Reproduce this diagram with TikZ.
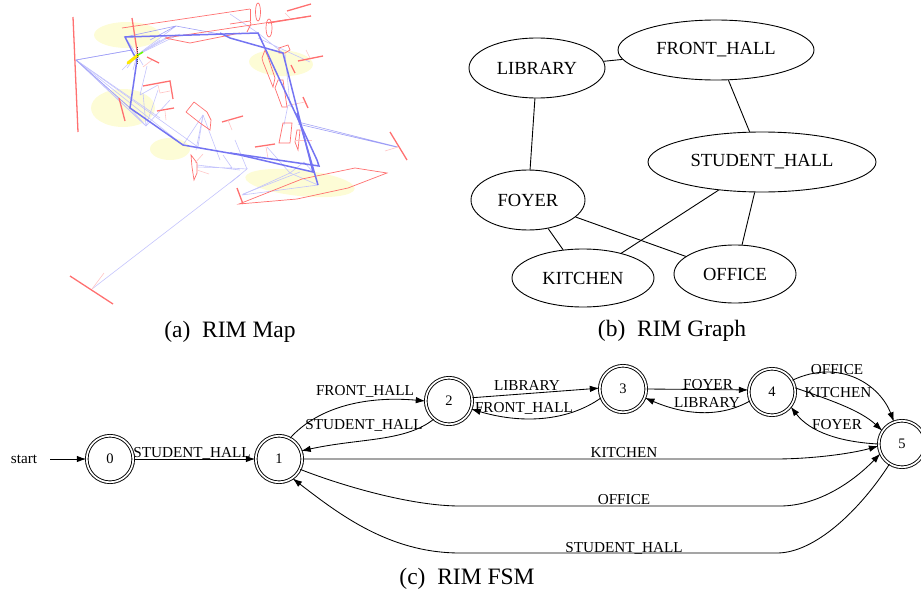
\documentclass[tikz,border=0pt]{standalone}
\usepackage{fontspec}
\setmainfont{Liberation Serif}
\usetikzlibrary{shapes.geometric,arrows.meta}
\definecolor{mapyellow}{HTML}{FDFCD6}
\definecolor{mapred}{HTML}{FF7070}
\definecolor{mapfaint}{HTML}{FFC4C4}
\definecolor{mapblue}{HTML}{7474F2}
\definecolor{maplight}{HTML}{C4C4FC}
\tikzset{
 gnode/.style={draw,ellipse,inner sep=0pt,line width=.9pt,font=\fontsize{18.5}{18.5}\selectfont},
 gedge/.style={line width=.9pt},
 state/.style={draw,circle,double,double distance=1.7pt,line width=.9pt,minimum size=46.5pt,inner sep=0pt,font=\fontsize{14.5}{14.5}\selectfont},
 fedge/.style={line width=.85pt,-{Latex[length=9.5pt,width=6.5pt]}},
 flabel/.style={font=\fontsize{15.2}{15.2}\selectfont,inner sep=0pt},
 capt/.style={font=\fontsize{23.5}{23.5}\selectfont,inner sep=0pt},
 redthick/.style={mapred,line width=1.3pt},
 redthin/.style={mapred,line width=.7pt},
 redfaint/.style={mapfaint,line width=.6pt},
 bluethick/.style={mapblue,line width=1.5pt},
 bluemid/.style={mapblue!70,line width=.6pt},
 bluethin/.style={maplight,line width=.6pt},
}
\begin{document}
\begin{tikzpicture}[x=1pt,y=-1pt]
\useasboundingbox (0,0) rectangle (921,597);
% ---------- map
\fill[mapyellow] (127,35) ellipse[x radius=33,y radius=13];
\fill[mapyellow] (123,108) ellipse[x radius=32,y radius=19];
\fill[mapyellow] (170,149) ellipse[x radius=20,y radius=11];
\fill[mapyellow,rotate around={-3:(281,63)}] (281,63) ellipse[x radius=32,y radius=13];
\fill[mapyellow,rotate around={-6:(300,183)}] (300,183) ellipse[x radius=55,y radius=13];
% light blue
\foreach \a/\b in {183/145,198/147,143/123,130/108,132/50,146/126,160/118}
  \draw[bluethin] (76,60) -- (\a,\b);
\foreach \a/\b in {176/26,167/37,173/35,180/34,160/40,125/37,127/68,133/70,122/70,143/65}
  \draw[bluethin] (137,55) -- (\a,\b);
\foreach \a/\b in {158/90,170/100,130/108,143/93}
  \draw[bluethin] (146,126) -- (\a,\b);
\foreach \a/\b in {183/145,198/147,220/160,196/150}
  \draw[bluethin] (203,115) -- (\a,\b);
\draw[bluethin] (140,95) -- (147,66) (140,95) -- (158,85);
\draw[bluethin] (92,289) -- (240,175);
\draw[bluethin] (197,165) -- (240,170) (197,167) -- (232,168) (223,155) -- (232,168);
\draw[bluethin] (230,168) -- (247,169) -- (230,183) (247,169) -- (235,140);
\draw[bluethin] (242,195) -- (290,173) -- (318,185) (242,195) -- (318,185);
\draw[bluethin] (290,173) -- (304,162) -- (313,172) (267,147) -- (290,173);
\draw[bluethin] (243,194) -- (300,172);
\draw[bluethin] (258,33) -- (230,14) (258,33) -- (283,53) (258,38) -- (310,62) (285,53) -- (290,105);
\draw[bluethin] (288,105) -- (284,125) (288,105) -- (294,108);
\draw[bluemid] (298,122) -- (398,147) (298,124) -- (396,147);
\draw[bluemid] (76,60) -- (130,108) (76,60) -- (132,50);
\draw[bluemid] (176,26) -- (230,36) (176,26) -- (150,40) (125,37) -- (176,26);
% red
\draw[redthick] (73,17) -- (78,132);
\draw[redthick] (132,18) -- (138,57);
\draw[redthin] (122,28) -- (250,9);
\draw[redthin] (165,38) -- (311,16) (165,38) -- (190,43) -- (240,33);
\draw[redthick] (268,23) -- (311,16) (287,11) -- (311,4);
\draw[redthick] (143,86) -- (170,81) -- (173,99);
\draw[redfaint] (158,85) -- (160,93) -- (170,91);
\draw[redthick] (147,57) -- (159,63);
\draw[redfaint] (143,67) -- (152,60);
\draw[redthick] (119,98) -- (125,121);
\draw[redthick] (157,111) -- (174,108);
\draw[redfaint] (165,111) -- (166,120);
\draw[redthin] (186,112) -- (194,102) -- (207,112) -- (211,120) -- (210,130) -- (200,123) -- cycle;
\draw[redthick] (222,122) -- (243,116);
\draw[redfaint] (228,120) -- (232,130);
\draw[redthin] (191,155) -- (197,163) -- (197,173) -- (194,180) -- (192,167) -- cycle;
\draw[redfaint] (195,163) -- (203,154) (197,170) -- (209,174);
\draw[redthick] (70,276) -- (113,304);
\draw[redfaint] (92,289) -- (104,273);
\draw[redthin] (258,12) ellipse[x radius=2.5,y radius=9];
\draw[redthin] (269,28) ellipse[x radius=3,y radius=9];
\draw[redthin] (230,24) -- (250,21) -- (251,24) -- (247,32);
\draw[redthin] (250,9) -- (250,21);
\draw[redfaint] (285,13) -- (290,18);
\draw[redthin] (262,58) -- (265,50) -- (268,57) -- (275,78) -- (273,87) -- (263,62) -- cycle;
\draw[redthin] (279,48) -- (288,45) -- (290,50) -- (285,53) -- (279,53) -- cycle;
\draw[redthick] (298,61) -- (323,56);
\draw[redfaint] (306,50) -- (310,58);
\draw[redthick] (291,65) -- (295,73);
\draw[redthin] (278,80) -- (283,80) -- (287,107) -- (282,107) -- (275,88) -- cycle;
\draw[redthick] (303,97) -- (308,108);
\draw[redfaint] (290,105) -- (305,102);
\draw[redthin] (283,123) -- (292,123) -- (290,143) -- (279,143) -- cycle;
\draw[redthin] (297,130) -- (300,130) -- (298,150) -- (295,142) -- cycle;
\draw[redfaint] (295,140) -- (312,140);
\draw[redthick] (390,132) -- (407,160);
\draw[redfaint] (385,151) -- (398,147);
\draw[redthick] (255,147) -- (275,144);
\draw[redfaint] (266,147) -- (268,158);
\draw[redthin] (239,204) -- (302,179) -- (355,168) -- (387,173) -- (348,188) -- (297,199) -- cycle;
\draw[redthick] (237,188) -- (243,204);
% strong blue
\draw[bluethick] (133,53) -- (125,37) -- (258,33) -- (317,160) -- (319,166) -- (230,153);
\draw[bluethick] (133,53) -- (137,60) -- (130,108) -- (183,145) -- (240,155) -- (313,172) -- (283,53) -- (230,38) -- (220,33);
\draw[bluethick] (297,113) -- (318,185);
% glyph
\draw[yellow!90!orange,line width=3pt,line cap=round] (128,63) -- (138,55);
\draw[green!60!yellow,line width=1.5pt] (138,55) -- (143,52);
\draw[black!70,line width=.7pt,dash pattern=on 1pt off 1pt] (137,47) -- (137,64);
% ---------- graph
\node[gnode,minimum width=136pt,minimum height=60pt] (lib) at (537,68) {\raisebox{-1pt}{LIBRARY}};
\node[gnode,minimum width=196pt,minimum height=60pt] (fh) at (716,50) {\raisebox{-1pt}{FRONT\_HALL}};
\node[gnode,minimum width=228pt,minimum height=60pt] (sh) at (762,162) {\raisebox{-1pt}{STUDENT\_HALL}};
\node[gnode,minimum width=114pt,minimum height=60pt] (foy) at (528,200) {\raisebox{-1pt}{FOYER}};
\node[gnode,minimum width=142pt,minimum height=58pt] (kit) at (583,278) {\raisebox{-1pt}{KITCHEN}};
\node[gnode,minimum width=122pt,minimum height=58pt] (off) at (735,274) {\raisebox{-1pt}{OFFICE}};
\draw[gedge] (lib) -- (fh);
\draw[gedge] (lib) -- (foy);
\draw[gedge] (fh) -- (sh);
\draw[gedge] (foy) -- (kit);
\draw[gedge] (foy) -- (off);
\draw[gedge] (sh) -- (kit);
\draw[gedge] (sh) -- (off);
% ---------- captions
\node[capt] (capa) at (230,332) {(a)\ \ RIM Map};
\node[capt] (capb) at (672,331) {(b)\ \ RIM Graph};
\node[capt] (capc) at (467,579) {(c)\ \ RIM FSM};
% ---------- FSM
\node[state] (n0) at (110,459) {0};
\node[state] (n1) at (279,459) {1};
\node[state] (n2) at (449,401) {2};
\node[state] (n3) at (623,389) {3};
\node[state] (n4) at (772,392) {4};
\node[state] (n5) at (902,444) {5};
\node[flabel] (st) at (24,459) {start};
\coordinate (st0) at (50,459);
\draw[fedge] (st0) -- (n0);
\draw[fedge] (n0) -- (n1);
\draw[fedge] (n1.62) .. controls (320,405) and (370,396) .. (n2.180);
\draw[fedge] (n2.-130) .. controls (405,442) and (360,438) .. (n1.20);
\draw[fedge] (n1.0) -- (775,459) .. controls (810,459) and (850,454) .. (n5.185);
\draw[fedge] (n1.-26) .. controls (340,485) and (410,506) .. (460,506) -- (780,506) .. controls (815,506) and (850,485) .. (n5.-156);
\draw[fedge] (n5.-122) .. controls (860,510) and (815,553) .. (777,553) -- (460,553) .. controls (390,553) and (340,515) .. (n1.-55);
\draw[fedge] (n2.8) -- (n3.178);
\draw[fedge] (n3.-158) .. controls (570,420) and (525,425) .. (n2.-20);
\draw[fedge] (n3.0) -- (n4.175);
\draw[fedge] (n4.-158) .. controls (720,418) and (685,415) .. (n3.-22);
\draw[fedge] (n4.30) .. controls (840,358) and (880,385) .. (n5.110);
\draw[fedge] (n4.10) .. controls (830,400) and (860,410) .. (n5.146);
\draw[fedge] (n5.180) .. controls (840,442) and (810,432) .. (n4.-38);
\node[flabel] (l01) at (192,453) {STUDENT\_HALL};
\node[flabel] (l12) at (365,391) {FRONT\_HALL};
\node[flabel] (l21) at (364,425) {STUDENT\_HALL};
\node[flabel] (l23) at (527,386) {LIBRARY};
\node[flabel] (l32) at (524,408) {FRONT\_HALL};
\node[flabel] (l34) at (708,385) {FOYER};
\node[flabel] (l43) at (707,403) {LIBRARY};
\node[flabel] (l45a) at (837,370) {OFFICE};
\node[flabel] (l45b) at (838,393) {KITCHEN};
\node[flabel] (l54) at (837,425) {FOYER};
\node[flabel] (l15a) at (624,453) {KITCHEN};
\node[flabel] (l15b) at (624,500) {OFFICE};
\node[flabel] (l51) at (624,548) {STUDENT\_HALL};
\end{tikzpicture}
\end{document}
